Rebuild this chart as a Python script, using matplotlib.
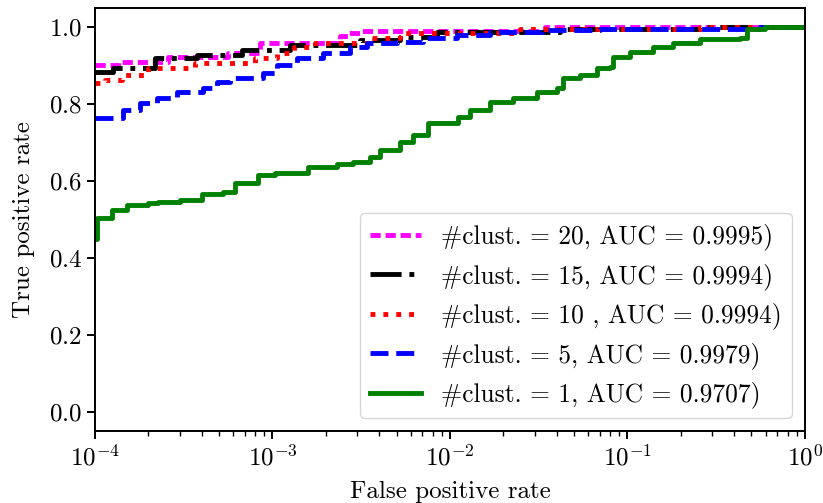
import matplotlib
matplotlib.use("Agg")
import matplotlib.pyplot as plt

plt.rcParams['font.family'] = ['cmr10', 'DejaVu Serif']
plt.rcParams['mathtext.fontset'] = 'cm'
plt.rcParams['axes.formatter.use_mathtext'] = True
plt.rcParams['font.size'] = 18
plt.rcParams['axes.linewidth'] = 1.4

# ROC curves (fpr, tpr), one pair per cluster setting
fpr_20 = [1e-4, 1.35e-4, 2.58e-4, 5.61e-4, 8.5e-4, 2.4e-3, 2.7e-3, 3.11e-3, 3.43e-2, 1.0]
tpr_20 = [0.901, 0.909, 0.922, 0.932, 0.958, 0.975, 0.984, 0.988, 1.0, 1.0]

fpr_15 = [1e-4, 1.26e-4, 2.18e-4, 3.76e-4, 6.73e-4, 1.26e-3, 3.11e-3, 5.23e-3, 8.45e-3, 4.17e-2, 0.256, 1.0]
tpr_15 = [0.883, 0.893, 0.919, 0.927, 0.940, 0.953, 0.966, 0.974, 0.987, 0.995, 1.0, 1.0]

fpr_10 = [1e-4, 1.14e-4, 1.42e-4, 1.99e-4, 3.66e-4, 7.97e-4, 1.06e-3, 1.32e-3, 1.73e-3, 3.64e-3,
          5.23e-3, 2.48e-2, 0.256, 1.0]
tpr_10 = [0.855, 0.862, 0.875, 0.893, 0.906, 0.919, 0.932, 0.948, 0.958, 0.971,
          0.984, 0.995, 1.0, 1.0]

fpr_5 = [1e-4, 1.44e-4, 1.79e-4, 2.24e-4, 2.90e-4, 4.06e-4, 4.87e-4, 5.76e-4, 8.84e-4, 1.06e-3,
         1.37e-3, 1.93e-3, 2.73e-3, 3.41e-3, 5.03e-3, 7.04e-3, 1.09e-2, 1.68e-2, 3.3e-2, 7.0e-2,
         0.557, 1.0]
tpr_5 = [0.764, 0.784, 0.803, 0.816, 0.831, 0.842, 0.857, 0.868, 0.881, 0.901,
         0.919, 0.932, 0.948, 0.958, 0.961, 0.971, 0.979, 0.987, 0.992, 0.995,
         1.0, 1.0]

fpr_1 = [1e-4, 1.02e-4, 1.25e-4, 1.51e-4, 1.99e-4, 2.26e-4, 3.01e-4, 4.01e-4, 5.26e-4, 6.15e-4,
         8.28e-4, 1.03e-3, 1.58e-3, 2.31e-3, 2.84e-3, 3.54e-3, 4.03e-3, 5.23e-3, 6.19e-3, 7.52e-3,
         1.11e-2, 1.30e-2, 1.68e-2, 2.26e-2, 3.09e-2, 4.01e-2, 4.33e-2, 5.40e-2, 6.73e-2, 7.96e-2,
         8.28e-2, 0.103, 0.139, 0.180, 0.256, 0.430, 0.471, 0.596, 1.0]
tpr_1 = [0.45, 0.504, 0.525, 0.538, 0.543, 0.546, 0.551, 0.566, 0.571, 0.594,
         0.616, 0.620, 0.636, 0.644, 0.650, 0.662, 0.680, 0.700, 0.720, 0.750,
         0.766, 0.784, 0.805, 0.816, 0.831, 0.842, 0.868, 0.875, 0.894, 0.896,
         0.922, 0.935, 0.948, 0.958, 0.969, 0.971, 0.995, 1.0, 1.0]

labels = ['#clust. = 20, AUC = 0.9995)',
          '#clust. = 15, AUC = 0.9994)',
          '#clust. = 10 , AUC = 0.9994)',
          '#clust. = 5, AUC = 0.9979)',
          '#clust. = 1, AUC = 0.9707)']

fig = plt.figure(figsize=(8.23, 5.03), dpi=100)
ax = fig.add_subplot(111)
fig.subplots_adjust(left=0.1154, right=0.978, bottom=0.143, top=0.985)

lw = 3.5
ax.plot(fpr_20, tpr_20, color='magenta', lw=lw, dashes=(2.1, 1.0), drawstyle='steps-post', label=labels[0])
ax.plot(fpr_15, tpr_15, color='black', lw=lw, linestyle='-.', drawstyle='steps-post', label=labels[1])
ax.plot(fpr_10, tpr_10, color='red', lw=lw, linestyle=':', drawstyle='steps-post', label=labels[2])
ax.plot(fpr_5, tpr_5, color='blue', lw=lw, linestyle='--', drawstyle='steps-post', label=labels[3])
ax.plot(fpr_1, tpr_1, color='green', lw=lw, linestyle='-', drawstyle='steps-post', label=labels[4])

ax.set_xscale('log')
ax.set_xlim(1e-4, 1)
ax.set_ylim(-0.05, 1.05)
ax.set_yticks([0.0, 0.2, 0.4, 0.6, 0.8, 1.0])
ax.set_xlabel('False positive rate', labelpad=8)
ax.set_ylabel('True positive rate', labelpad=10)
ax.tick_params(which='major', length=6, width=1.4)
ax.tick_params(which='minor', length=3.5, width=1.0)

ax.legend(loc='lower right', fontsize=18.3)

fig.savefig('out.png', dpi=100)
